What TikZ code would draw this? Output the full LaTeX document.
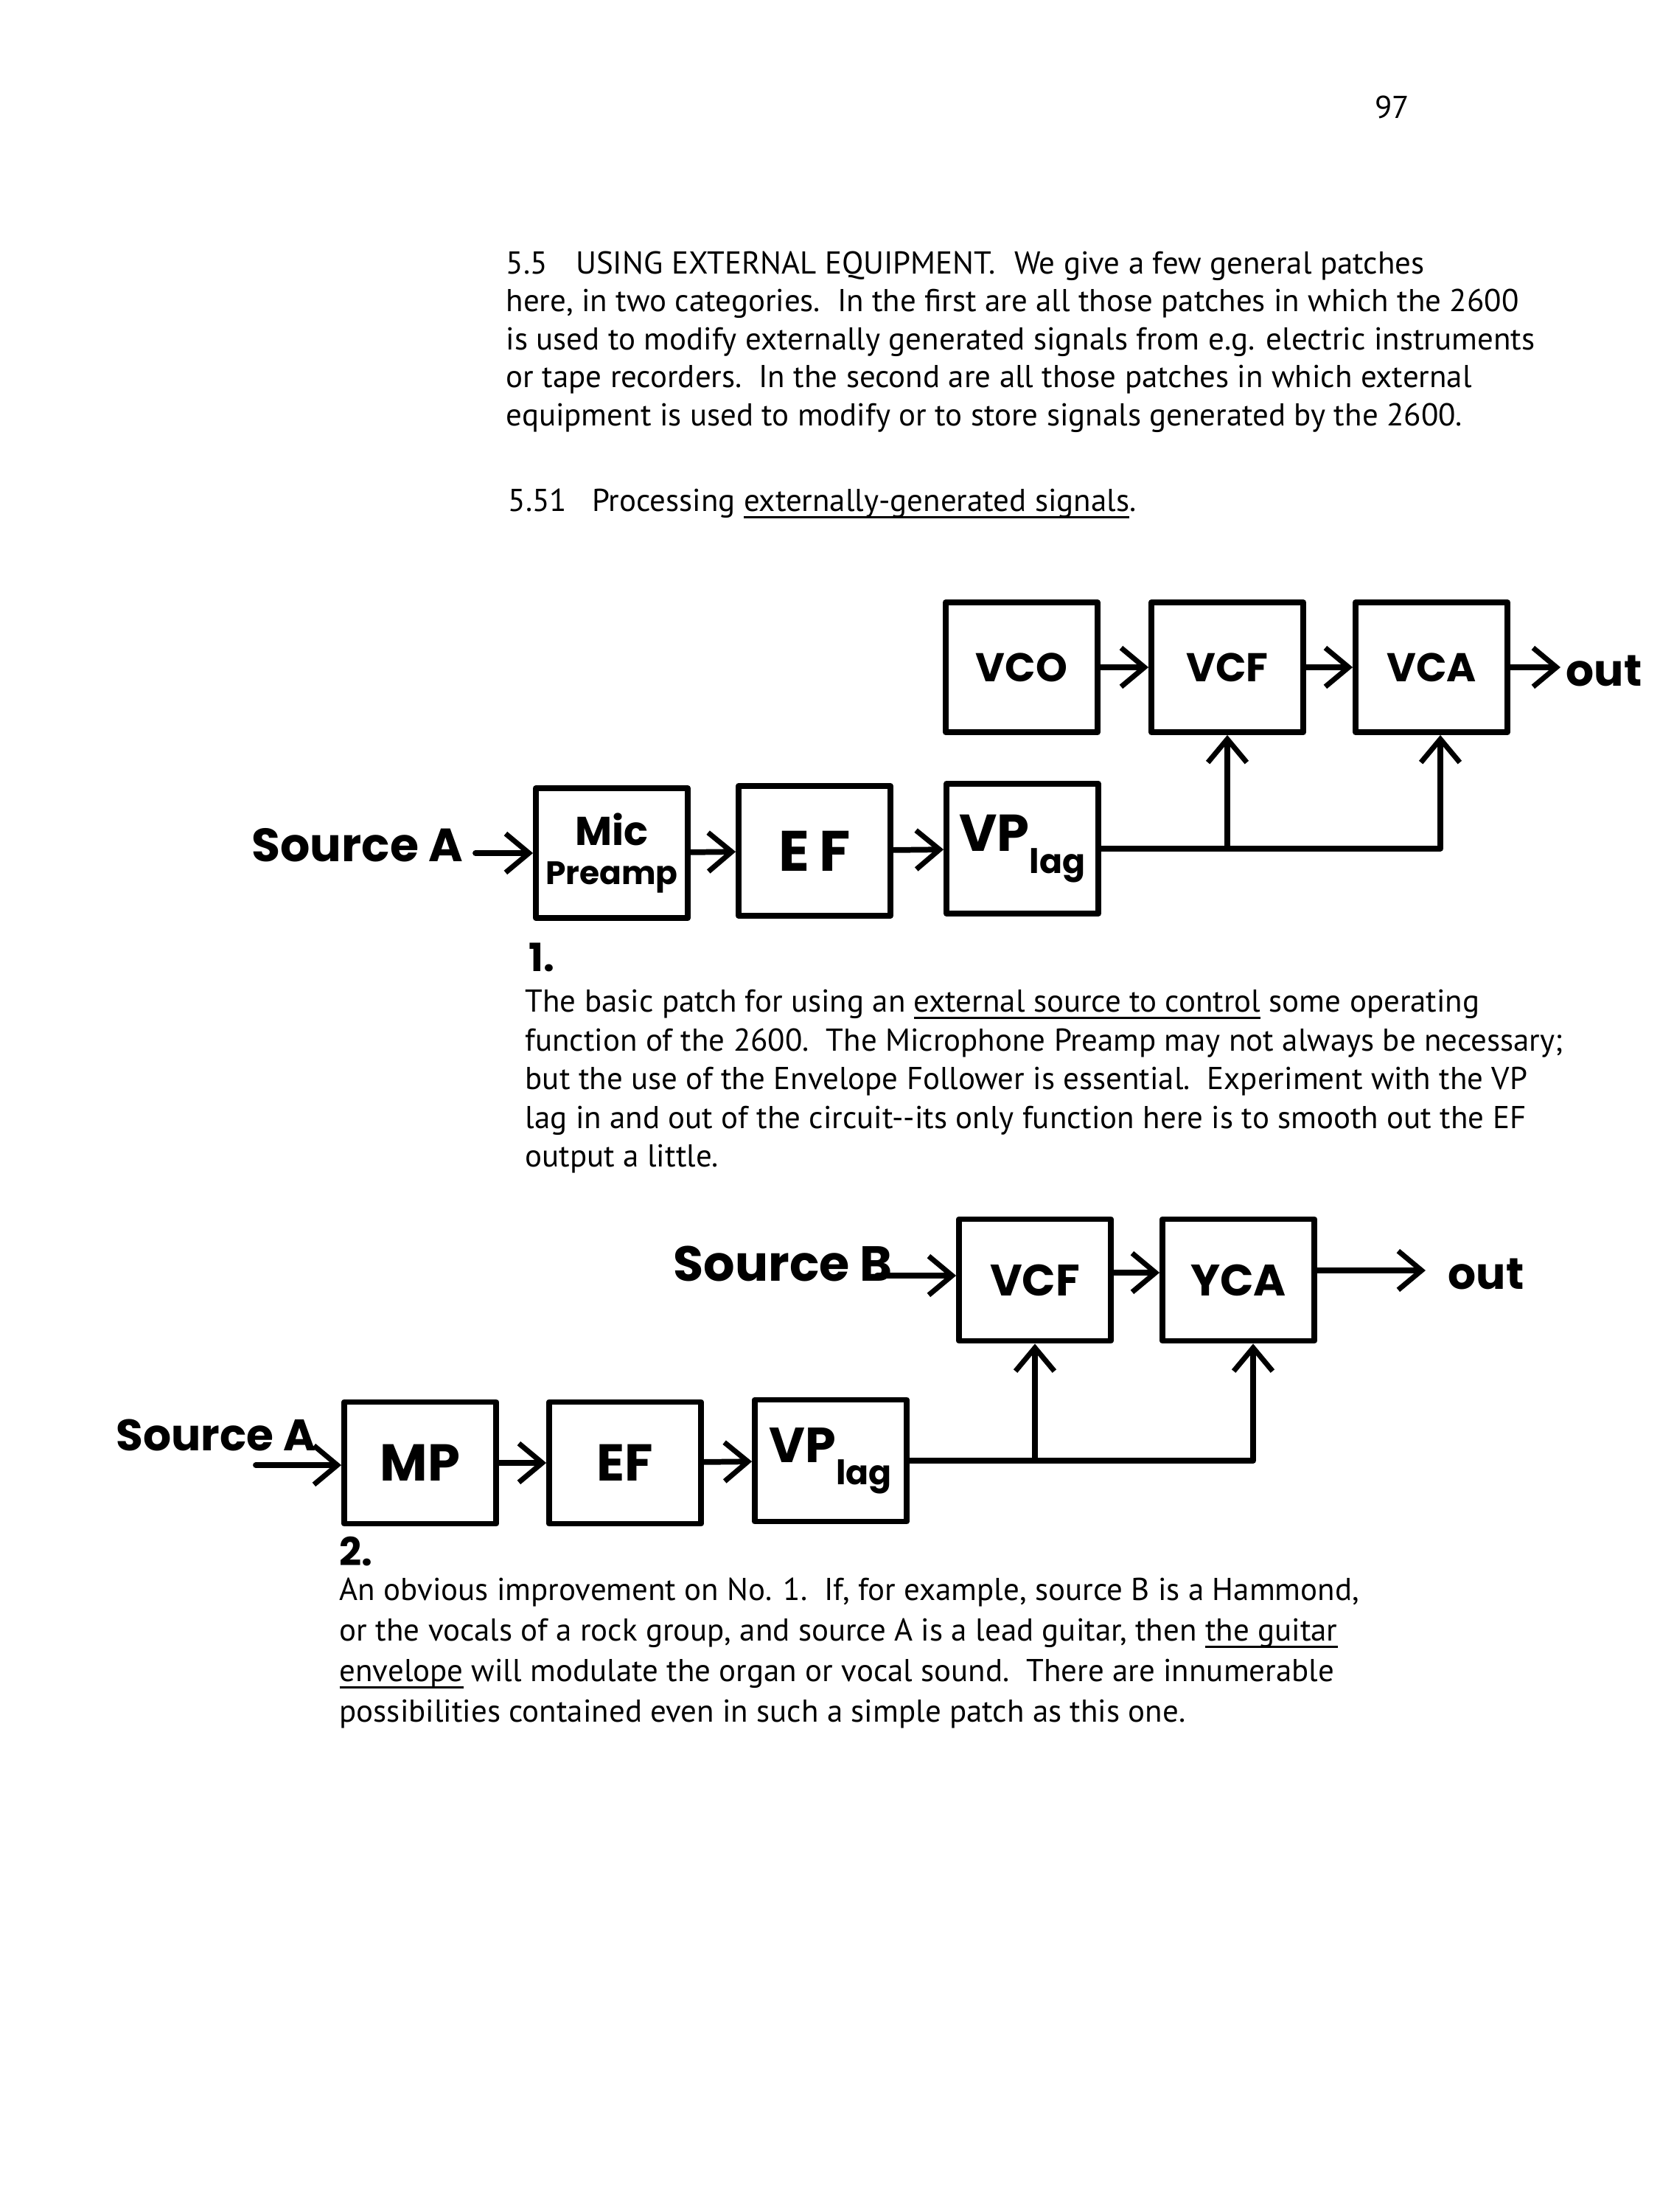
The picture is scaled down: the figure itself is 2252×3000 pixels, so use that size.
\documentclass[tikz,border=0pt]{standalone}
\usepackage{fontspec}
\setmainfont{PT Sans}
\newfontfamily\hand{Poppins}
\usetikzlibrary{arrows.meta}

\tikzset{
  modbox/.style={draw, line width=2.2pt, line join=round, minimum width=2.06cm,
    minimum height=1.76cm, inner sep=0pt, align=center,
    font=\hand\bfseries\fontsize{15.5}{18}\selectfont},
  wire/.style={line width=2.2pt, line cap=round, line join=round},
  patch/.style={wire, -{Straight Barb[length=9pt, width=15pt, line width=2pt]}},
  prose/.style={anchor=base west, inner sep=0pt, font=\fontsize{12.2}{14}\selectfont},
  handlabel/.style={anchor=base west, inner sep=0pt, font=\hand\bfseries\fontsize{18}{22}\selectfont},
}
\newsavebox{\ulbox}
\newcommand{\uword}[1]{\sbox{\ulbox}{#1}\rlap{\rule[-2.8pt]{\wd\ulbox}{0.9pt}}\usebox{\ulbox}}
\newcommand{\vplag}[2]{{\fontsize{#1}{#1}\selectfont VP}\raisebox{-0.55em}{\fontsize{#2}{#2}\selectfont lag}}

\begin{document}
\begin{tikzpicture}[x=0.01cm, y=-0.01cm]
\useasboundingbox (0,0) rectangle (2252,3000);
% Page number
\node[prose, anchor=base east] (pageno) at (1913,160) {97};
% Intro
\foreach \txt [count=\i] in {
  {5.5\hspace{0.9em}USING EXTERNAL EQUIPMENT.\hspace{0.6em}We give a few general patches},
  {here, in two categories.\ \ In the first are all those patches in which the 2600},
  {is used to modify externally generated signals from e.g. electric instruments},
  {or tape recorders.\ \ In the second are all those patches in which external},
  {equipment is used to modify or to store signals generated by the 2600.}}
  \node[prose] (intro\i) at (686, {319.5+51.5*\i}) {\txt};
\node[prose] (subhead) at (689,693) {5.51\hspace{0.8em}Processing \uword{externally-generated signals}.};

% Patch 1
\foreach \name/\x/\lbl in {vco/1386/VCO, vcfa/1665/VCF, vcaa/1942/VCA}
  \node[modbox] (\name) at (\x,905) {\lbl};
\node[modbox] (mic) at (830,1157) {Mic\\[-3pt]{\fontsize{12.5}{14}\selectfont Preamp}};
\node[modbox, font=\hand\bfseries\fontsize{22}{26}\selectfont] (efa) at (1105,1154) {E\,F};
\node[modbox] (vpa) at (1387,1151) {\vplag{20}{13}};
\node[handlabel] (srcAa) at (341,1168) {Source A};
\node[handlabel, anchor=west, font=\hand\bfseries\fontsize{17}{20}\selectfont] (outa) at (2124,910) {out};
\coordinate (ina) at (645,1157);
\draw[patch] (ina) -- (mic.west);
\draw[patch] (mic) -- (efa);
\draw[patch] (efa) -- (vpa);
\draw[patch] (vco) -- (vcfa);
\draw[patch] (vcfa) -- (vcaa);
\draw[patch] (vcaa.east) -- ([xshift=-0.07cm]vcaa.east -| outa.west);
\draw[patch] (vpa.east) -| ([xshift=0.12cm]vcaa.south);
\draw[patch] (vpa.east -| vcfa.south) -- (vcfa.south);
\node[handlabel, font=\hand\bfseries\fontsize{15}{18}\selectfont] (numa) at (717,1317) {1.};

% Notes 1
\foreach \txt [count=\i] in {
  {The basic patch for using an \uword{external source to control} some operating},
  {function of the 2600.\ \ The Microphone Preamp may not always be necessary;},
  {but the use of the Envelope Follower is essential.\ \ Experiment with the VP},
  {lag in and out of the circuit-{}-its only function here is to smooth out the EF},
  {output a little.}}
  \node[prose] (notea\i) at (712, {1320+52.5*\i}) {\txt};

% Patch 2
\foreach \name/\x/\lbl in {vcfb/1404/VCF, ycab/1680/YCA}
  \node[modbox, minimum height=1.65cm, font=\hand\bfseries\fontsize{17}{20}\selectfont] (\name) at (\x,1736) {\lbl};
\node[modbox, minimum height=1.65cm, font=\hand\bfseries\fontsize{20}{24}\selectfont] (mpb) at (570,1984) {MP};
\node[modbox, minimum height=1.65cm, font=\hand\bfseries\fontsize{20}{24}\selectfont] (efb) at (848,1984) {EF};
\node[modbox, minimum height=1.65cm] (vpb) at (1127,1981) {\vplag{19}{13}};
\node[handlabel, font=\hand\bfseries\fontsize{19}{22}\selectfont] (srcBb) at (913,1737) {Source B};
\node[handlabel, font=\hand\bfseries\fontsize{17}{20}\selectfont] (srcAb) at (157,1967) {Source A};
\node[handlabel, anchor=west, font=\hand\bfseries\fontsize{17}{20}\selectfont] (outb) at (1964,1728) {out};
\coordinate (inb) at (1190,1730);
\coordinate (inab) at (347,1987);
\draw[patch] (inb) -- (inb -| vcfb.west);
\draw[patch] ([yshift=0.1cm]vcfb.east) -- ([yshift=0.1cm]ycab.west);
\draw[patch] ([yshift=0.13cm]ycab.east) -- ([xshift=-0.3cm,yshift=0.13cm]ycab.east -| outb.west);
\draw[patch] (inab) -- (inab -| mpb.west);
\draw[patch] (mpb) -- (efb);
\draw[patch] (efb) -- (vpb);
\draw[patch] (vpb.east) -| ([xshift=0.2cm]ycab.south);
\draw[patch] (vpb.east -| vcfb.south) -- (vcfb.south);
\node[handlabel, font=\hand\bfseries\fontsize{15}{18}\selectfont] (numb) at (460,2123) {2.};

% Notes 2
\foreach \txt [count=\i] in {
  {An obvious improvement on No. 1.\ \ If, for example, source B is a Hammond,},
  {or the vocals of a rock group, and source A is\ a lead guitar, then \uword{the guitar}},
  {\uword{envelope} will modulate the organ or vocal sound.\ \ There are innumerable},
  {possibilities contained even in such a simple patch as this one.}}
  \node[prose] (noteb\i) at (460, {2115+55*\i}) {\txt};
\end{tikzpicture}
\end{document}
